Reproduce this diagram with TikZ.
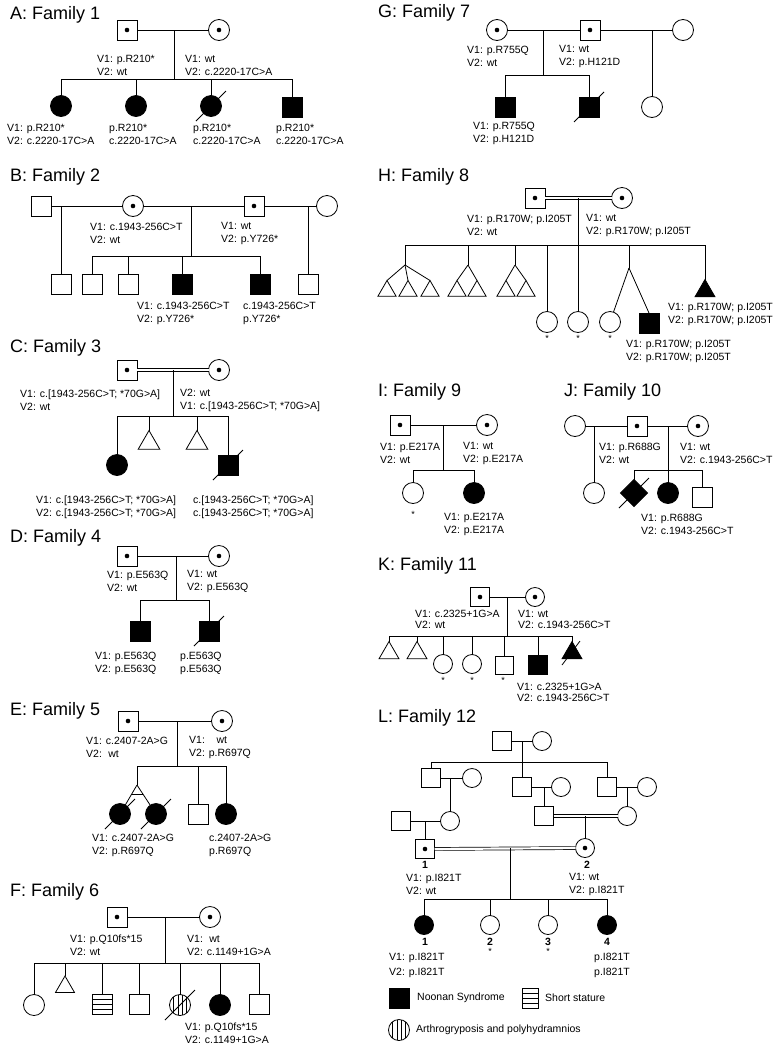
\documentclass[tikz,border=0pt]{standalone}
\usepackage{fontspec}
\setmainfont{Liberation Sans}
\usetikzlibrary{shapes.geometric,calc}
\tikzset{
 ln/.style={line width=0.8pt},
 dbl/.style={double,double distance=2.2pt,line width=0.7pt},
 ind/.style={draw,line width=0.8pt,inner sep=0pt,outer sep=0pt,fill=white},
 male/.style={ind,rectangle,minimum size=20pt},
 female/.style={ind,circle,minimum size=21pt},
 unk/.style={ind,regular polygon,regular polygon sides=3,minimum size=#1},
 unk/.default=23pt,
 dia/.style={ind,diamond,minimum width=27pt,minimum height=27pt},
 aff/.style={fill=black},
 car/.style={path picture={\fill[black] (path picture bounding box.center) circle (2.3pt);}},
 hstr/.style={path picture={\foreach \k in {1,...,3}{\draw[black,line width=0.7pt] ($(path picture bounding box.north west)!\k/4!(path picture bounding box.south west)$) -- ($(path picture bounding box.north east)!\k/4!(path picture bounding box.south east)$);}}},
 vstr/.style={path picture={\foreach \k in {1,...,4}{\draw[black,line width=0.7pt] ($(path picture bounding box.north west)!\k/5!(path picture bounding box.north east)$) -- ($(path picture bounding box.south west)!\k/5!(path picture bounding box.south east)$);}}},
 lab/.style={font=\fontsize{10.5}{13}\selectfont,align=left,anchor=west,inner sep=0pt},
 labk/.style={font=\fontsize{10.5}{11}\selectfont,align=left,anchor=west,inner sep=0pt},
 labw/.style={font=\fontsize{10.5}{15}\selectfont,align=left,anchor=west,inner sep=0pt},
 ttl/.style={font=\fontsize{18}{21}\selectfont,anchor=west,inner sep=0pt},
 ast/.style={font=\fontsize{9}{9}\selectfont,inner sep=0pt},
 num/.style={font=\bfseries\fontsize{10.5}{12}\selectfont,inner sep=0pt},
}
\newcommand\deadmark[1]{\draw[ln] ([shift={(-15,15)}]#1.center) -- ([shift={(15,-15)}]#1.center);}
\begin{document}
\begin{tikzpicture}[x=1pt,y=-1pt]
\useasboundingbox[fill=white] (0,0) rectangle (780,1050);

% ---------------- A: Family 1
\node[ttl] (At) at (10,15) {A: Family 1};
\node[male,car] (A1) at (127,30) {};
\node[female,car] (A2) at (219,30) {};
\draw[ln] (A1) -- (A2);
\coordinate (Am) at (174,30);
\coordinate (As) at (174,79);
\draw[ln] (Am) -- (As);
\node[female,aff] (A3) at (61,106) {};
\node[female,aff] (A4) at (136,106) {};
\node[female,aff] (A5) at (211,106) {};
\node[male,aff] (A6) at (292,107) {};
\draw[ln] (A3|-As) -- (A6|-As);
\foreach \n in {A3,A4,A5,A6} \draw[ln] (\n|-As) -- (\n);
\deadmark{A5}
\node[lab] (Al1) at (97,65) {V1: p.R210*\\V2: wt};
\node[lab] (Al2) at (185,65) {V1: wt\\V2: c.2220-17C>A};
\node[lab] (Al3) at (7,134) {V1: p.R210*\\V2: c.2220-17C>A};
\node[lab] (Al4) at (109,134) {p.R210*\\c.2220-17C>A};
\node[lab] (Al5) at (193,134) {p.R210*\\c.2220-17C>A};
\node[lab] (Al6) at (276,134) {p.R210*\\c.2220-17C>A};

% ---------------- B: Family 2
\node[ttl] (Bt) at (10,177) {B: Family 2};
\node[male] (B1) at (41,206) {};
\node[female,car] (B2) at (133,206) {};
\node[male,car] (B3) at (254,206) {};
\node[female] (B4) at (327,206) {};
\draw[ln] (B1) -- (B2);
\draw[ln] (B2) -- (B3);
\draw[ln] (B3) -- (B4);
\node[male] (B5) at (61,284) {};
\node[male] (B6) at (92,284) {};
\node[male] (B7) at (128,284) {};
\node[male,aff] (B8) at (182,284) {};
\node[male,aff] (B9) at (260,284) {};
\node[male] (B10) at (308,284) {};
\coordinate (Bm) at (191,206);
\coordinate (Bs) at (191,256);
\draw[ln] (Bm) -- (Bs);
\draw[ln] (B5|-B1) -- (B5);
\draw[ln] (B10|-B1) -- (B10);
\draw[ln] (B6|-Bs) -- (B9|-Bs);
\foreach \n in {B6,B7,B8,B9} \draw[ln] (\n|-Bs) -- (\n);
\node[lab] (Bl1) at (90,233) {V1: c.1943-256C>T\\V2: wt};
\node[lab] (Bl2) at (221,233) {V1: wt\\V2: p.Y726*};
\node[lab] (Bl3) at (137,313) {V1: c.1943-256C>T\\V2: p.Y726*};
\node[lab] (Bl4) at (243,313) {c.1943-256C>T\\p.Y726*};

% ---------------- C: Family 3
\node[ttl] (Ct) at (10,348) {C: Family 3};
\node[male,car] (C1) at (127,370) {};
\node[female,car] (C2) at (219,370) {};
\draw[dbl] (C1) -- (C2);
\coordinate (Cm) at (173,370);
\coordinate (Cs) at (173,416);
\draw[ln] (Cm) -- (Cs);
\node[female,aff] (C3) at (117,465) {};
\node[unk=25pt] (C4) at (149,443) {};
\node[unk=25pt] (C5) at (197,443) {};
\node[male,aff] (C6) at (228,465) {};
\draw[ln] (C3|-Cs) -- (C6|-Cs);
\foreach \n in {C3,C4,C5,C6} \draw[ln] (\n|-Cs) -- (\n);
\deadmark{C6}
\node[lab] (Cl1) at (20,400) {V1: c.[1943-256C>T; *70G>A]\\V2: wt};
\node[lab] (Cl2) at (180,400) {V2: wt\\V1: c.[1943-256C>T; *70G>A]};
\node[lab] (Cl3) at (36,507) {V1: c.[1943-256C>T; *70G>A]\\V2: c.[1943-256C>T; *70G>A]};
\node[lab] (Cl4) at (193,507) {c.[1943-256C>T; *70G>A]\\c.[1943-256C>T; *70G>A]};

% ---------------- D: Family 4
\node[ttl] (Dt) at (10,538) {D: Family 4};
\node[male,car] (D1) at (127,556) {};
\node[female,car] (D2) at (219,556) {};
\draw[ln] (D1) -- (D2);
\coordinate (Dm) at (176,556);
\coordinate (Ds) at (176,600);
\draw[ln] (Dm) -- (Ds);
\node[male,aff] (D3) at (140,631) {};
\node[male,aff] (D4) at (209,631) {};
\draw[ln] (D3|-Ds) -- (D4|-Ds);
\foreach \n in {D3,D4} \draw[ln] (\n|-Ds) -- (\n);
\deadmark{D4}
\node[lab] (Dl1) at (107,581) {V1: p.E563Q\\V2: wt};
\node[lab] (Dl2) at (187,581) {V1: wt\\V2: p.E563Q};
\node[lab] (Dl3) at (95,663) {V1: p.E563Q\\V2: p.E563Q};
\node[lab] (Dl4) at (180,663) {p.E563Q\\p.E563Q};

% ---------------- E: Family 5
\node[ttl] (Et) at (10,711) {E: Family 5};
\node[male,car] (E1) at (128,721) {};
\node[female,car] (E2) at (222,721) {};
\draw[ln] (E1) -- (E2);
\coordinate (Em) at (177,721);
\coordinate (Es) at (177,766);
\draw[ln] (Em) -- (Es);
\coordinate (Ea) at (137,785);
\node[female,aff] (E3) at (120,814) {};
\node[female,aff] (E4) at (156,814) {};
\node[male] (E5) at (198,814) {};
\node[female,aff] (E6) at (226,814) {};
\draw[ln] (Ea|-Es) -- (E6|-Es);
\draw[ln] (Ea|-Es) -- (Ea);
\draw[ln] (Ea) -- (E3);
\draw[ln] (Ea) -- (E4);
\draw[ln] ($(Ea)!0.31!(E3)$) -- ($(Ea)!0.31!(E4)$);
\foreach \n in {E5,E6} \draw[ln] (\n|-Es) -- (\n);
\deadmark{E3}
\deadmark{E4}
\node[lab] (El1) at (86,747) {V1: c.2407-2A>G\\V2:\hspace{0.6em}wt};
\node[lab] (El2) at (189,747) {V1:\hspace{1.1em}wt\\V2: p.R697Q};
\node[lab] (El3) at (92,845) {V1: c.2407-2A>G\\V2: p.R697Q};
\node[lab] (El4) at (209,845) {c.2407-2A>G\\p.R697Q};

% ---------------- F: Family 6
\node[ttl] (Ft) at (10,892) {F: Family 6};
\node[male,car] (F1) at (117,917) {};
\node[female,car] (F2) at (210,917) {};
\draw[ln] (F1) -- (F2);
\coordinate (Fm) at (165,917);
\coordinate (Fs) at (165,963);
\draw[ln] (Fm) -- (Fs);
\node[female] (F3) at (34,1005) {};
\node[unk=22pt] (F4) at (65,987) {};
\node[male,hstr] (F5) at (102,1004) {};
\node[male] (F6) at (139,1004) {};
\node[female,vstr] (F7) at (180,1005) {};
\node[female,aff] (F8) at (220,1005) {};
\node[male] (F9) at (259,1004) {};
\draw[ln] (F3|-Fs) -- (F9|-Fs);
\foreach \n in {F3,F4,F5,F6,F7,F8,F9} \draw[ln] (\n|-Fs) -- (\n);
\deadmark{F7}
\node[lab] (Fl1) at (70,945) {V1: p.Q10fs*15\\V2: wt};
\node[lab] (Fl2) at (187,945) {V1:\hspace{0.6em}wt\\V2: c.1149+1G>A};
\node[lab] (Fl3) at (185,1033) {V1: p.Q10fs*15\\V2: c.1149+1G>A};

% ---------------- G: Family 7
\node[ttl] (Gt) at (378,13) {G: Family 7};
\node[female,car] (G1) at (497,30) {};
\node[male,car] (G2) at (590,30) {};
\node[female] (G3) at (683,30) {};
\draw[ln] (G1) -- (G2);
\draw[ln] (G2) -- (G3);
\coordinate (Gm) at (543,30);
\coordinate (Gs) at (543,75);
\draw[ln] (Gm) -- (Gs);
\node[male,aff] (G4) at (505,107) {};
\node[male,aff] (G5) at (589,107) {};
\node[female] (G6) at (652,107) {};
\draw[ln] (G4|-Gs) -- (G5|-Gs);
\foreach \n in {G4,G5} \draw[ln] (\n|-Gs) -- (\n);
\draw[ln] (G6|-G3) -- (G6);
\deadmark{G5}
\node[lab] (Gl1) at (467,56) {V1: p.R755Q\\V2: wt};
\node[lab] (Gl2) at (559,56) {V1: wt\\V2: p.H121D};
\node[lab] (Gl3) at (473,133) {V1: p.R755Q\\V2: p.H121D};

% ---------------- H: Family 8
\node[ttl] (Ht) at (378,177) {H: Family 8};
\node[male,car] (H1) at (535,198) {};
\node[female,car] (H2) at (622,198) {};
\draw[dbl] (H1) -- (H2);
\coordinate (Hm) at (578,198);
\coordinate (Hs) at (578,245);
\coordinate (Ha1) at (405,265);
\coordinate (Ha2) at (468,265);
\coordinate (Ha3) at (515,265);
\coordinate (Ha4) at (629,268);
\node[unk=21pt] (H3) at (387,291) {};
\node[unk=21pt] (H4) at (408,291) {};
\node[unk=21pt] (H5) at (430,291) {};
\node[unk=21pt] (H6) at (457,291) {};
\node[unk=21pt] (H7) at (477,291) {};
\node[unk=21pt] (H8) at (506,291) {};
\node[unk=21pt] (H9) at (526,291) {};
\node[female] (H10) at (547,322) {};
\node[female] (H11) at (578,322) {};
\node[female] (H12) at (610,322) {};
\node[male,aff] (H13) at (649,323) {};
\node[unk,aff] (H14) at (705,291) {};
\draw[ln] (Ha1|-Hs) -- (H14|-Hs);
\draw[ln] (Hm) -- (H11);
\foreach \a in {Ha1,Ha2,Ha3,Ha4} \draw[ln] (\a|-Hs) -- (\a);
\foreach \n in {H3,H4,H5} \draw[ln] (Ha1) -- (\n.north);
\foreach \n in {H6,H7} \draw[ln] (Ha2) -- (\n.north);
\foreach \n in {H8,H9} \draw[ln] (Ha3) -- (\n.north);
\draw[ln] (Ha4) -- (H12);
\draw[ln] (Ha4) -- (H13.north);
\draw[ln] (H10|-Hs) -- (H10);
\draw[ln] (H14|-Hs) -- (H14);
\node[ast] (Hx1) at (547,338) {*};
\node[ast] (Hx2) at (578,338) {*};
\node[ast] (Hx3) at (610,338) {*};
\node[lab] (Hl1) at (467,225) {V1: p.R170W; p.I205T\\V2: wt};
\node[lab] (Hl2) at (586,225) {V1: wt\\V2: p.R170W; p.I205T};
\node[lab] (Hl3) at (668,314) {V1: p.R170W; p.I205T\\V2: p.R170W; p.I205T};
\node[lab] (Hl4) at (626,351) {V1: p.R170W; p.I205T\\V2: p.R170W; p.I205T};

% ---------------- I: Family 9
\node[ttl] (It) at (378,392) {I: Family 9};
\node[male,car] (I1) at (400,425) {};
\node[female,car] (I2) at (487,425) {};
\draw[ln] (I1) -- (I2);
\coordinate (Im) at (443,425);
\coordinate (Is) at (443,470);
\draw[ln] (Im) -- (Is);
\node[female] (I3) at (413,493) {};
\node[female,aff] (I4) at (474,493) {};
\draw[ln] (I3|-Is) -- (I4|-Is);
\foreach \n in {I3,I4} \draw[ln] (\n|-Is) -- (\n);
\node[ast] (Ix) at (413,514) {*};
\node[lab] (Il1) at (380,453) {V1: p.E217A\\V2: wt};
\node[lab] (Il2) at (463,453) {V1: wt\\V2: p.E217A};
\node[lab] (Il3) at (444,524) {V1: p.E217A\\V2: p.E217A};

% ---------------- J: Family 10
\node[ttl] (Jt) at (564,392) {J: Family 10};
\node[female] (J1) at (575,426) {};
\node[male,car] (J2) at (637,426) {};
\node[female,car] (J3) at (698,426) {};
\draw[ln] (J1) -- (J2);
\draw[ln] (J2) -- (J3);
\node[female] (J4) at (594,493) {};
\draw[ln] (J4|-J1) -- (J4);
\coordinate (Jm) at (668,426);
\coordinate (Js) at (668,470);
\draw[ln] (Jm) -- (Js);
\node[dia,aff] (J5) at (634,493) {};
\node[female,aff] (J6) at (668,493) {};
\node[male] (J7) at (702,497) {};
\draw[ln] (J5|-Js) -- (J7|-Js);
\foreach \n in {J5,J6,J7} \draw[ln] (\n|-Js) -- (\n);
\deadmark{J5}
\node[lab] (Jl1) at (599,453) {V1: p.R688G\\V2: wt};
\node[lab] (Jl2) at (680,453) {V1: wt\\V2: c.1943-256C>T};
\node[lab] (Jl3) at (641,524) {V1: p.R688G\\V2: c.1943-256C>T};

% ---------------- K: Family 11
\node[ttl] (Kt) at (378,566) {K: Family 11};
\node[male,car,minimum size=19pt] (K1) at (480,597) {};
\node[female,car,minimum size=19pt] (K2) at (535,597) {};
\draw[ln] (K1) -- (K2);
\coordinate (Km) at (507,597);
\coordinate (Ks) at (507,636);
\draw[ln] (Km) -- (Ks);
\node[unk] (K3) at (389,653) {};
\node[unk] (K4) at (417,653) {};
\node[female,minimum size=19pt] (K5) at (443,664) {};
\node[female,minimum size=19pt] (K6) at (472,664) {};
\node[male,minimum size=18pt] (K7) at (504,665) {};
\node[male,aff,minimum size=19pt] (K8) at (538,665) {};
\node[unk,aff] (K9) at (572,653) {};
\draw[ln] (K3|-Ks) -- (K9|-Ks);
\foreach \n in {K3,K4,K5,K6,K7,K8,K9} \draw[ln] (\n|-Ks) -- (\n);
\draw[ln] ([shift={(-10,12)}]K9.center) -- ([shift={(8,-12)}]K9.center);
\node[ast] (Kx1) at (443,680) {*};
\node[ast] (Kx2) at (472,680) {*};
\node[ast] (Kx3) at (503,680) {*};
\node[labk] (Kl1) at (415,619) {V1: c.2325+1G>A\\V2: wt};
\node[labk] (Kl2) at (518,619) {V1: wt\\V2: c.1943-256C>T};
\node[labk] (Kl3) at (517,692) {V1: c.2325+1G>A\\V2: c.1943-256C>T};

% ---------------- L: Family 12
\node[ttl] (Lt) at (378,718) {L: Family 12};
\node[male,minimum size=19pt] (L1) at (502,741) {};
\node[female,minimum size=19pt] (L2) at (542,741) {};
\draw[ln] (L1) -- (L2);
\coordinate (Lm) at (522,741);
\coordinate (Ls) at (522,762);
\draw[ln] (Lm) -- (Ls);
\node[male,minimum size=19pt] (L3) at (431,778) {};
\node[female,minimum size=19pt] (L4) at (472,778) {};
\node[male,minimum size=19pt] (L5) at (522,787) {};
\node[female,minimum size=19pt] (L6) at (561,787) {};
\node[male,minimum size=19pt] (L7) at (607,787) {};
\node[female,minimum size=19pt] (L8) at (647,787) {};
\draw[ln] (L3|-Ls) -- (L7|-Ls);
\foreach \n in {L3,L5,L7} \draw[ln] (\n|-Ls) -- (\n);
\draw[ln] (L3) -- (L4);
\draw[ln] (L5) -- (L6);
\draw[ln] (L7) -- (L8);
\node[male,minimum size=19pt] (L9) at (401,821) {};
\node[female,minimum size=19pt] (L10) at (450,821) {};
\node[male,minimum size=19pt] (L11) at (544,816) {};
\node[female,minimum size=19pt] (L12) at (627,816) {};
\draw[ln] (L10|-L3) -- (L10);
\draw[ln] (L11|-L5) -- (L11);
\draw[ln] (L12|-L7) -- (L12);
\draw[ln] (L9) -- (L10);
\draw[dbl] (L11) -- (L12);
\node[male,car,minimum size=19pt] (L13) at (425,849) {};
\node[female,car,minimum size=19pt] (L14) at (585,848) {};
\draw[ln] (L13|-L9) -- (L13);
\draw[ln] (L14|-L11) -- (L14);
\draw[dbl] (L13) -- (L14);
\coordinate (Lm2) at (510,848);
\coordinate (Ls2) at (510,899);
\draw[ln] (Lm2) -- (Ls2);
\node[num] (Ln1) at (425,865) {1};
\node[num] (Ln2) at (587,865) {2};
\node[lab] (Ll1) at (406,884) {V1: p.I821T\\V2: wt};
\node[lab] (Ll2) at (569,884) {V1: wt\\V2: p.I821T};
\node[female,aff,minimum size=19pt] (L15) at (424,925) {};
\node[female,minimum size=19pt] (L16) at (490,925) {};
\node[female,minimum size=19pt] (L17) at (548,925) {};
\node[female,aff,minimum size=19pt] (L18) at (607,925) {};
\draw[ln] (L15|-Ls2) -- (L18|-Ls2);
\foreach \n in {L15,L16,L17,L18} \draw[ln] (\n|-Ls2) -- (\n);
\node[num] (Ln3) at (425,942) {1};
\node[num] (Ln4) at (490,942) {2};
\node[num] (Ln5) at (548,942) {3};
\node[num] (Ln6) at (607,942) {4};
\node[ast] (Lx1) at (490,951) {*};
\node[ast] (Lx2) at (548,951) {*};
\node[labw] (Ll3) at (389,965) {V1: p.I821T\\V2: p.I821T};
\node[labw] (Ll4) at (594,965) {p.I821T\\p.I821T};

% legend
\node[male,aff] (Lg1) at (399,998) {};
\node[lab] (Lg1t) at (417,998) {Noonan Syndrome};
\node[male,hstr,minimum width=16pt,minimum height=20pt] (Lg2) at (530,998) {};
\node[lab] (Lg2t) at (545,998) {Short stature};
\node[female,vstr] (Lg3) at (399,1030) {};
\node[lab] (Lg3t) at (416,1030) {Arthrogryposis and polyhydramnios};
\end{tikzpicture}
\end{document}
